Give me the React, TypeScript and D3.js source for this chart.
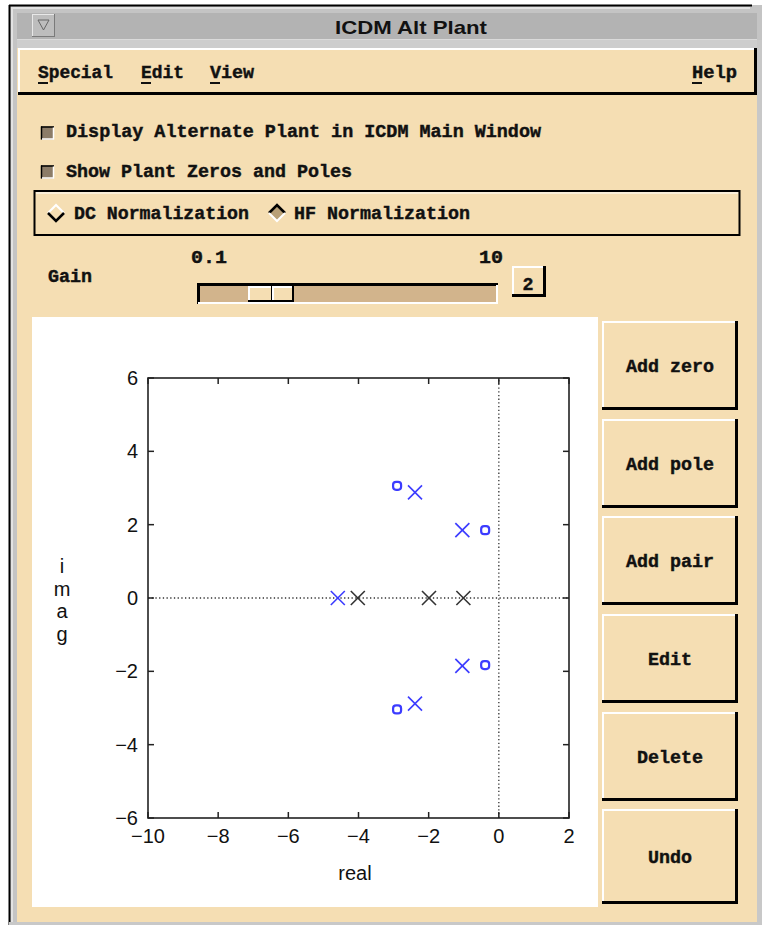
import React from "react";
import * as d3 from "d3";

// ---- data ----
const zeroRe = [-2.9, -0.39, -0.39, -2.9];
const zeroIm = [3.06, 1.85, -1.83, -3.04];
const poleRe = [-2.39, -1.04, -1.04, -2.39, -4.59];
const poleIm = [2.88, 1.85, -1.85, -2.88, 0];
const plantPoleRe = [-4.02, -1.99, -1.01];
const plantPoleIm = [0, 0, 0];
const xTicks = [-10, -8, -6, -4, -2, 0, 2];
const yTicks = [-6, -4, -2, 0, 2, 4, 6];
const buttonLabels = ["Add zero", "Add pole", "Add pair", "Edit", "Delete", "Undo"];
const menuLabels = ["Special", "Edit", "View"];

const WHEAT = "#f5deb3";
const TAN = "#d2b48c";
const BLUE = "#3c3cff";
const UI = "'Liberation Mono', 'DejaVu Sans Mono', monospace";
const SANS = "'Liberation Sans', Arial, sans-serif";

function Bevel({ x, y, w, h, fill = WHEAT, light = "#ffffff", dark = "#000000", lw = 2, dw = 3 }: any) {
  return (
    <g>
      <rect x={x} y={y} width={w} height={h} fill={fill} />
      <line x1={x} y1={y + lw / 2} x2={x + w} y2={y + lw / 2} stroke={light} strokeWidth={lw} />
      <line x1={x + lw / 2} y1={y} x2={x + lw / 2} y2={y + h} stroke={light} strokeWidth={lw} />
      <line x1={x} y1={y + h - dw / 2} x2={x + w} y2={y + h - dw / 2} stroke={dark} strokeWidth={dw} />
      <line x1={x + w - dw / 2} y1={y} x2={x + w - dw / 2} y2={y + h} stroke={dark} strokeWidth={dw} />
    </g>
  );
}

function UIText({ x, y, w, children, anchor = "start", size = 19 }: any) {
  return (
    <text
      x={x}
      y={y}
      fontFamily={UI}
      fontWeight="bold"
      fontSize={size}
      fill="#111"
      stroke="#111"
      strokeWidth={0.45}
      textAnchor={anchor}
      textLength={w}
      lengthAdjust="spacingAndGlyphs"
    >
      {children}
    </text>
  );
}

function Cross({ cx, cy, color, s = 7 }: any) {
  return (
    <g stroke={color} strokeWidth={1.6}>
      <line x1={cx - s} y1={cy - s} x2={cx + s} y2={cy + s} />
      <line x1={cx - s} y1={cy + s} x2={cx + s} y2={cy - s} />
    </g>
  );
}

export default function App() {
  const x = d3.scaleLinear().domain([-10, 2]).range([148, 569]);
  const y = d3.scaleLinear().domain([-6, 6]).range([818, 378]);
  const [x0, x1] = x.range();
  const [y0, y1] = y.range();

  const menuX = [38, 141, 210];
  const menuW = [75, 43, 44];
  const btnTops = [321, 419, 516, 614, 712, 809];
  const btnH = [89, 89, 89, 89, 89, 95];

  return (
    <div style={{ position: "absolute", left: 0, top: 0 }}>
      <svg width={762} height={925} style={{ display: "block" }}>
        <rect x={0} y={0} width={762} height={925} fill="#ffffff" />
        {/* window frame */}
        <rect x={9} y={5} width={753} height={920} fill="#c4c4c4" />
        <line x1={9} y1={5.5} x2={752} y2={5.5} stroke="#000" strokeWidth={2} />
        <line x1={9.5} y1={5} x2={9.5} y2={925} stroke="#000" strokeWidth={2} />
        <line x1={11} y1={8} x2={750} y2={8} stroke="#e2e2e2" strokeWidth={2} />
        <line x1={12} y1={8} x2={12} y2={922} stroke="#e2e2e2" strokeWidth={2} />
        {/* title bar */}
        <rect x={17} y={13} width={740} height={26} fill="#b3b3b3" />
        <line x1={17} y1={39.5} x2={757} y2={39.5} stroke="#dadada" strokeWidth={1} />
        <rect x={17} y={40} width={740} height={8} fill="#cdcdcd" />
        <Bevel x={32} y={14} w={23} h={23} fill="#bdbdbd" light="#e8e8e8" dark="#7a7a7a" lw={1} dw={1} />
        <path d="M38,20 L49,20 L43.5,30 Z" fill="none" stroke="#666" strokeWidth={1} />
        <text x={411} y={34} textAnchor="middle" fontFamily={SANS} fontWeight="bold" fontSize={19} fill="#111" textLength={152} lengthAdjust="spacingAndGlyphs">
          ICDM Alt Plant
        </text>

        {/* body */}
        <rect x={17} y={48} width={740} height={874} fill={WHEAT} />
        <rect x={757} y={40} width={5} height={885} fill="#c8c8c8" />
        <rect x={9} y={922} width={753} height={3} fill="#c8c8c8" />

        {/* menubar */}
        <Bevel x={18} y={48} w={739} h={47} />
        {menuLabels.map((m, i) => (
          <g key={m}>
            <UIText x={menuX[i]} y={78} w={menuW[i]}>{m}</UIText>
            <line x1={menuX[i]} y1={83} x2={menuX[i] + 10} y2={83} stroke="#111" strokeWidth={2} />
          </g>
        ))}
        <UIText x={692} y={78} w={45}>Help</UIText>
        <line x1={692} y1={83} x2={702} y2={83} stroke="#111" strokeWidth={2} />

        {/* checkboxes */}
        {[126.5, 165.5].map((cy) => (
          <g key={cy}>
            <rect x={41} y={cy} width={13} height={13} fill="#8c7c68" />
            <line x1={41} y1={cy + 0.5} x2={54} y2={cy + 0.5} stroke="#000" strokeWidth={1.5} />
            <line x1={41.5} y1={cy} x2={41.5} y2={cy + 13} stroke="#000" strokeWidth={1.5} />
            <line x1={42} y1={cy + 12.5} x2={54} y2={cy + 12.5} stroke="#fff" strokeWidth={1.5} />
            <line x1={53.5} y1={cy + 1} x2={53.5} y2={cy + 13} stroke="#fff" strokeWidth={1.5} />
          </g>
        ))}
        <UIText x={66} y={137} w={475}>Display Alternate Plant in ICDM Main Window</UIText>
        <UIText x={66} y={176.5} w={286}>Show Plant Zeros and Poles</UIText>

        {/* radio box */}
        <rect x={34.5} y={191} width={705} height={44} fill="none" stroke="#000" strokeWidth={2} />
        <line x1={36} y1={193} x2={738} y2={193} stroke="#fff" strokeWidth={1} />
        {/* DC diamond (unselected) */}
        <path d="M48,213 L56,205 L64,213 L56,221 Z" fill={WHEAT} />
        <path d="M48,213 L56,205 L64,213" fill="none" stroke="#fff" strokeWidth={2} />
        <path d="M48,213 L56,221 L64,213" fill="none" stroke="#000" strokeWidth={2.5} />
        <UIText x={74} y={219} w={175}>DC Normalization</UIText>
        {/* HF diamond (selected) */}
        <path d="M269,213 L277,205 L285,213 L277,221 Z" fill="#b8a078" />
        <path d="M269,213 L277,205 L285,213" fill="none" stroke="#000" strokeWidth={2.5} />
        <path d="M269,213 L277,221 L285,213" fill="none" stroke="#fff" strokeWidth={2} />
        <UIText x={294} y={219} w={176}>HF Normalization</UIText>

        {/* gain slider */}
        <UIText x={48} y={282} w={44}>Gain</UIText>
        <UIText x={191} y={263} w={36}>0.1</UIText>
        <UIText x={479} y={263} w={24}>10</UIText>
        <rect x={197} y={283} width={301} height={21} fill={TAN} />
        <line x1={197} y1={284.5} x2={498} y2={284.5} stroke="#000" strokeWidth={3} />
        <line x1={198.5} y1={283} x2={198.5} y2={304} stroke="#000" strokeWidth={3} />
        <line x1={198} y1={303} x2={498} y2={303} stroke="#fff" strokeWidth={2} />
        <line x1={497} y1={285} x2={497} y2={304} stroke="#fff" strokeWidth={2} />
        <Bevel x={248} y={286} w={25} h={16} lw={2} dw={2} />
        <Bevel x={272} y={286} w={22} h={16} lw={2} dw={2} />
        <Bevel x={512} y={266} w={34} h={31} lw={2} dw={3} />
        <UIText x={528} y={290} w={11} anchor="middle">2</UIText>

        {/* plot panel */}
        <rect x={32} y={317} width={566} height={590} fill="#ffffff" />

        {/* zero lines */}
        <line x1={x0} y1={y(0)} x2={x1} y2={y(0)} stroke="#333" strokeWidth={1.3} strokeDasharray="1.3,2.4" />
        <line x1={x(0)} y1={y0} x2={x(0)} y2={y1} stroke="#333" strokeWidth={1.3} strokeDasharray="1.3,2.4" />

        {/* axes box */}
        <rect x={x0} y={y1} width={x1 - x0} height={y0 - y1} fill="none" stroke="#222" strokeWidth={1.6} />
        {xTicks.map((t) => (
          <g key={"x" + t}>
            <line x1={x(t)} y1={y0} x2={x(t)} y2={y0 - 6} stroke="#222" strokeWidth={1.5} />
            <line x1={x(t)} y1={y1} x2={x(t)} y2={y1 + 6} stroke="#222" strokeWidth={1.5} />
            <text x={x(t)} y={843} textAnchor="middle" fontFamily={SANS} fontSize={20} fill="#111">
              {t < 0 ? "\u2212" + Math.abs(t) : String(t)}
            </text>
          </g>
        ))}
        {yTicks.map((t) => (
          <g key={"y" + t}>
            <line x1={x0} y1={y(t)} x2={x0 + 6} y2={y(t)} stroke="#222" strokeWidth={1.5} />
            <line x1={x1} y1={y(t)} x2={x1 - 6} y2={y(t)} stroke="#222" strokeWidth={1.5} />
            <text x={138} y={y(t) + 7} textAnchor="end" fontFamily={SANS} fontSize={20} fill="#111">
              {t < 0 ? "\u2212" + Math.abs(t) : String(t)}
            </text>
          </g>
        ))}
        <text x={355} y={880} textAnchor="middle" fontFamily={SANS} fontSize={20} fill="#111">real</text>
        {["i", "m", "a", "g"].map((c, i) => (
          <text key={c} x={62} y={573 + i * 22.5} textAnchor="middle" fontFamily={SANS} fontSize={20} fill="#111">
            {c}
          </text>
        ))}

        {/* markers */}
        {plantPoleRe.map((r, i) => (
          <Cross key={"pp" + i} cx={x(r)} cy={y(plantPoleIm[i])} color="#333" />
        ))}
        {poleRe.map((r, i) => (
          <Cross key={"p" + i} cx={x(r)} cy={y(poleIm[i])} color={BLUE} />
        ))}
        {zeroRe.map((r, i) => (
          <rect key={"z" + i} x={x(r) - 4} y={y(zeroIm[i]) - 4} width={8} height={8} rx={3} fill="none" stroke={BLUE} strokeWidth={2.2} />
        ))}

        {/* buttons */}
        {buttonLabels.map((b, i) => (
          <g key={b}>
            <Bevel x={602} y={btnTops[i]} w={136} h={btnH[i]} lw={2} dw={3} />
            <UIText x={670} y={btnTops[i] + btnH[i] / 2 + 6} w={b.length * 11} anchor="middle">{b}</UIText>
          </g>
        ))}
      </svg>
    </div>
  );
}
